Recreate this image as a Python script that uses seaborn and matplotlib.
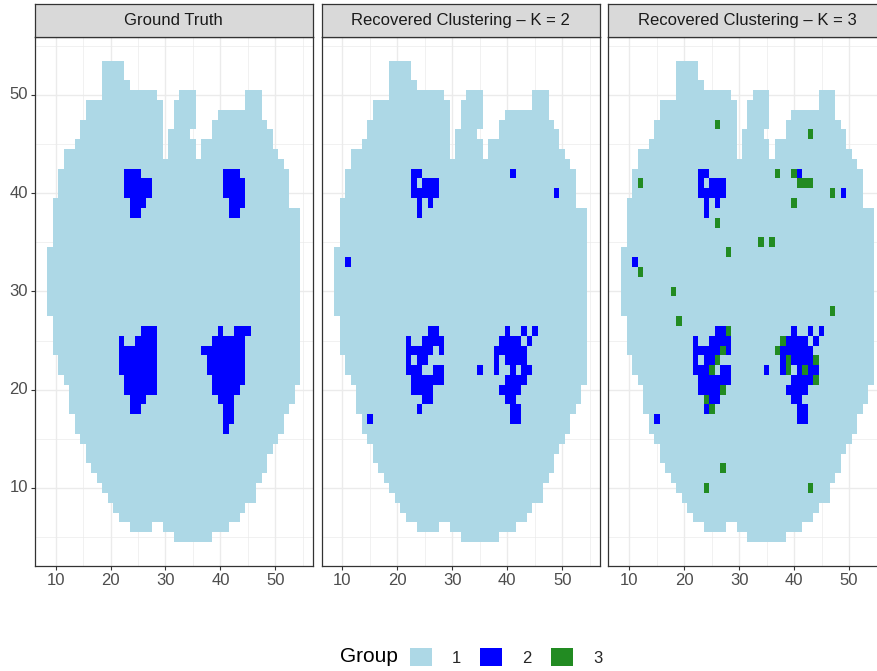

# Brain clustering tiles: ground truth vs recovered clusterings (K = 2, K = 3).

import matplotlib
matplotlib.use("Agg")
import matplotlib.pyplot as plt
from matplotlib.colors import ListedColormap
from matplotlib.patches import Patch
import seaborn as sns
import pandas as pd

# Brain mask: for each row y, the x segments (from, to) that are inside.
mask_y = [53, 52, 51, 50, 49, 48, 47, 46, 45, 44, 43, 42, 41, 40, 39,
          38, 37, 36, 35, 34, 33, 32, 31, 30, 29, 28, 27, 26, 25, 24,
          23, 22, 21, 20, 19, 18, 17, 16, 15, 14, 13, 12, 11, 10, 9,
          8, 7, 6, 5]
mask_segments = [
    [(19, 22)], [(19, 22)], [(19, 23)],
    [(19, 28), (33, 35), (45, 47)],
    [(16, 29), (32, 35), (45, 47)],
    [(16, 29), (32, 35), (40, 47)],
    [(15, 29), (32, 35), (39, 48)],
    [(15, 29), (31, 34), (39, 49)],
    [(14, 29), (31, 35), (37, 49)],
    [(12, 29), (31, 35), (37, 50)],
    [(12, 51)], [(11, 52)], [(11, 52)], [(11, 52)], [(10, 52)],
    [(10, 54)], [(10, 54)], [(10, 54)], [(10, 54)],
    [(9, 54)], [(9, 54)], [(9, 54)], [(9, 54)], [(9, 54)], [(9, 54)], [(9, 54)],
    [(10, 54)], [(10, 54)], [(10, 54)], [(10, 54)],
    [(11, 54)], [(11, 54)], [(12, 54)], [(13, 53)], [(13, 53)], [(13, 52)],
    [(14, 51)], [(14, 51)], [(15, 50)], [(16, 49)], [(16, 48)], [(17, 48)],
    [(18, 47)], [(19, 46)], [(20, 46)], [(21, 44)], [(22, 43)],
    [(24, 27), (30, 41)], [(32, 38)],
]

# Cells of group 2 / group 3 as (y, x_from, x_to).
truth_blue = [
    (42, 23, 25), (41, 23, 27), (40, 23, 27), (39, 24, 26), (38, 24, 25),
    (42, 41, 43), (41, 41, 44), (40, 41, 44), (39, 42, 44), (38, 42, 43),
    (26, 26, 28), (25, 22, 22), (25, 25, 28), (24, 22, 28), (23, 22, 28),
    (22, 22, 28), (21, 23, 28), (20, 23, 28), (19, 24, 26), (18, 24, 25),
    (26, 40, 40), (26, 43, 45), (25, 39, 44), (24, 37, 44), (23, 38, 44),
    (22, 38, 44), (21, 39, 44), (20, 39, 43), (19, 40, 42), (18, 41, 42),
    (17, 41, 42), (16, 41, 41),
]
recovered_blue = [
    (42, 23, 24), (41, 23, 23), (41, 25, 27), (40, 23, 27), (39, 24, 24),
    (39, 26, 26), (38, 24, 24), (42, 41, 41), (40, 49, 49), (33, 11, 11),
    (17, 15, 15),
    (26, 26, 27), (25, 22, 22), (25, 25, 28), (24, 22, 26), (24, 28, 28),
    (23, 22, 22), (23, 24, 25), (22, 22, 24), (22, 27, 28), (21, 23, 28),
    (20, 23, 26), (19, 25, 26), (18, 24, 24),
    (26, 40, 40), (26, 43, 43), (26, 45, 45), (25, 39, 42), (25, 44, 44),
    (24, 38, 43), (23, 38, 38), (23, 40, 43), (22, 35, 35), (22, 38, 38),
    (22, 41, 41), (22, 43, 44), (21, 40, 43), (20, 39, 42), (19, 40, 41),
    (18, 41, 42), (17, 41, 42),
]
k3_green = [
    (47, 26, 26), (46, 43, 43), (42, 37, 37), (42, 40, 40), (41, 12, 12),
    (41, 41, 43), (40, 47, 47), (39, 40, 40), (37, 26, 26), (35, 34, 34),
    (35, 36, 36), (34, 28, 28), (32, 12, 12), (30, 18, 18), (28, 47, 47),
    (27, 19, 19), (26, 28, 28), (25, 38, 38), (24, 27, 27), (24, 37, 37),
    (23, 26, 26), (23, 39, 39), (23, 44, 44), (22, 25, 25), (22, 39, 39),
    (22, 42, 42), (21, 44, 44), (20, 27, 27), (19, 24, 24), (18, 25, 25),
    (12, 27, 27), (10, 24, 24), (10, 43, 43),
]

panel_titles = ["Ground Truth", "Recovered Clustering \u2013 K = 2",
                "Recovered Clustering \u2013 K = 3"]
group_labels = ["1", "2", "3"]
group_colors = ["#ADD8E6", "#0000FF", "#228B22"]

x_ticks = [10, 20, 30, 40, 50]
y_ticks = [10, 20, 30, 40, 50]


def build_grid(overlays):
    cells = {}
    for y, segs in zip(mask_y, mask_segments):
        for a, b in segs:
            for x in range(a, b + 1):
                cells[(x, y)] = 1
    for code, rows in overlays:
        for y, a, b in rows:
            for x in range(a, b + 1):
                cells[(x, y)] = code
    df = pd.DataFrame([(x, y, g) for (x, y), g in cells.items()],
                      columns=["x", "y", "group"])
    grid = df.pivot(index="y", columns="x", values="group")
    grid = grid.reindex(index=range(5, 54), columns=range(9, 55))
    return grid


grids = [
    build_grid([(2, truth_blue)]),
    build_grid([(2, recovered_blue)]),
    build_grid([(2, recovered_blue), (3, k3_green)]),
]

sns.set_style("white")
plt.rcParams['font.family'] = ['Liberation Sans', 'DejaVu Sans']

W, H = 878, 671
fig = plt.figure(figsize=(W / 100, H / 100), dpi=100)
cmap = ListedColormap(group_colors)

panel_lefts = [34.7, 321.6, 608.5]
panel_w = 278.0
panel_top, panel_bot = 36.5, 566.1
x_lo, x_hi = 6.2, 56.8
y_lo, y_hi = 2.05, 55.95

for i, (grid, title) in enumerate(zip(grids, panel_titles)):
    left = panel_lefts[i]
    ax = fig.add_axes([left / W, 1 - panel_bot / H, panel_w / W,
                       (panel_bot - panel_top) / H])
    sns.heatmap(grid, ax=ax, cmap=cmap, vmin=0.5, vmax=3.5, cbar=False,
                linewidths=0)
    # heatmap column 0 is x = 9, row 0 is y = 5
    ax.set_xticks([v - 8.5 for v in x_ticks])
    ax.set_xticklabels([str(v) for v in x_ticks], rotation=0)
    ax.set_yticks([v - 4.5 for v in y_ticks])
    ax.set_yticklabels([str(v) for v in y_ticks], rotation=0)
    ax.set_xticks([v - 8.5 for v in (15, 25, 35, 45, 55)], minor=True)
    ax.set_yticks([v - 4.5 for v in (5, 15, 25, 35, 45, 55)], minor=True)
    ax.set_xlim(x_lo - 8.5, x_hi - 8.5)
    ax.set_ylim(y_lo - 4.5, y_hi - 4.5)
    ax.set_xlabel("")
    ax.set_ylabel("")
    ax.set_facecolor("white")
    ax.set_axisbelow(True)
    ax.grid(True, which="major", color="#EBEBEB", linewidth=1.0)
    ax.grid(True, which="minor", color="#EBEBEB", linewidth=0.5)
    ax.tick_params(which="minor", length=0)
    ax.tick_params(which="major", length=3, width=0.8, color="#333333",
                   labelsize=12, labelcolor="#4D4D4D", pad=2)
    for s in ax.spines.values():
        s.set_visible(True)
        s.set_color("#333333")
        s.set_linewidth(0.9)
    if i > 0:
        ax.tick_params(axis="y", left=False, labelleft=False)
    else:
        ax.tick_params(axis="y", left=True, labelleft=True)
    ax.tick_params(axis="x", bottom=True, labelbottom=True)

    # facet strip
    sax = fig.add_axes([left / W, 1 - panel_top / H, panel_w / W,
                        (panel_top - 4.3) / H])
    sax.set_facecolor("#D9D9D9")
    sax.set_xticks([])
    sax.set_yticks([])
    for s in sax.spines.values():
        s.set_color("#333333")
        s.set_linewidth(0.9)
    sax.text(0.5, 0.5, title, ha="center", va="center", fontsize=12,
             color="#1A1A1A", transform=sax.transAxes)

# legend
fig.text(340 / W, 1 - 657 / H, "Group", fontsize=15, color="black",
         ha="left", va="center")
handles = [Patch(facecolor=c, edgecolor="none") for c in group_colors]
fig.legend(handles, group_labels, loc="center left",
           bbox_to_anchor=(410 / W, 1 - 657 / H), ncol=3, frameon=False,
           fontsize=12, handlelength=1.32, handleheight=1.32,
           handletextpad=1.2, columnspacing=1.15, borderpad=0,
           borderaxespad=0)

fig.savefig("out.png", dpi=100)
